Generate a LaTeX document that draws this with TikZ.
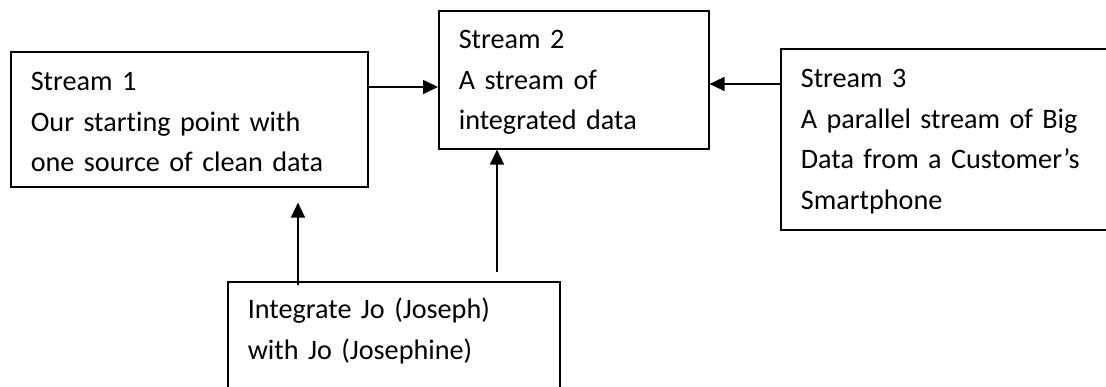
\documentclass[tikz,border=0pt]{standalone}
\usepackage{fontspec}
\setmainfont{Carlito}[Ligatures=NoCommon]
\usepackage{tikz}
\usetikzlibrary{arrows.meta}
\usetikzlibrary{positioning,calc}

\begin{document}
\begin{tikzpicture}[x=1pt,y=-1pt,
		box/.style={draw,line width=1.6pt,anchor=north west,inner xsep=20pt,inner ysep=0pt,
			align=left,font=\fontsize{28.2}{40.5}\selectfont},
		arr/.style={line width=1.6pt,-{Triangle[width=14pt,length=15pt]}}]
			\useasboundingbox (0,0) rectangle (1106,387);
			\clip (0,0) rectangle (1106,387);
			\node[box,text width=317pt,text height=39pt,text depth=96pt] (s1) at (10,51)
				{Stream 1\\Our starting point with\\one source of clean data};
			\node[box,text width=230pt,text height=38pt,text depth=100pt] (s2) at (438,10)
				{Stream 2\\A stream of\\integrated data};
			\node[box,text width=320pt,text height=39pt,text depth=142pt] (s3) at (780,48)
				{Stream 3\\A parallel stream of Big\\Data from a Customer’s\\Smartphone};
			\node[box,text width=292pt,text height=37pt,text depth=93pt] (s4) at (227,281)
				{Integrate Jo (Joseph)\\with Jo (Josephine)};
			\coordinate (a) at ([yshift=-36pt]s1.north east);
			\coordinate (b) at ([yshift=-36pt]s3.north west);
			\coordinate (c) at ([xshift=71pt,yshift=-4pt]s4.north west);
			\coordinate (d) at ([xshift=270pt,yshift=9pt]s4.north west);
			\draw[arr] (a) -- (a -| s2.west);
			\draw[arr] (b) -- (b -| s2.east);
			\draw[arr,shorten >=15pt] (c) -- (c |- s1.south);
			\draw[arr] (d) -- (d |- s2.south);
		\end{tikzpicture}
\end{document}
